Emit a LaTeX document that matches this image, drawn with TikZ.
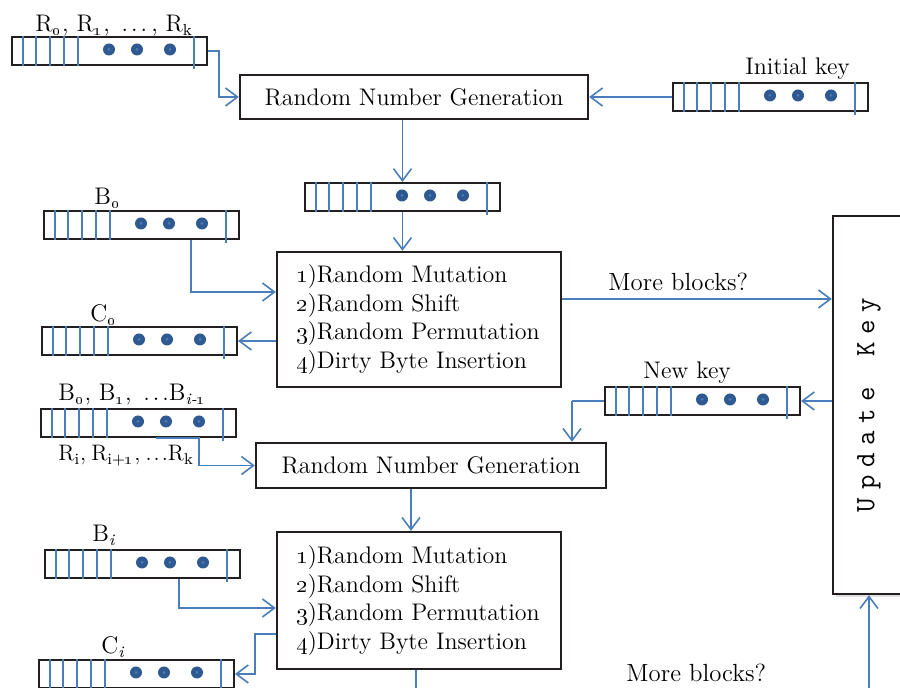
\documentclass[tikz,border=0pt]{standalone}
\usetikzlibrary{arrows.meta,calc,shadows}
\definecolor{lineblue}{RGB}{74,126,187}
\definecolor{dotblue}{RGB}{46,89,145}
\definecolor{boxline}{RGB}{35,31,32}
\newcommand\mainfs{\fontsize{12}{14.25}\selectfont}
\newcommand\osn[1]{\oldstylenums{#1}}
\newcommand\regbox[3]{%
  \node[regst] (#1) at (#2+97.5,#3+14) {};
  \foreach \dx in {12,25,39,53,67}{\draw[regline] ($(#1.north west)+(\dx,0)$) -- ($(#1.south west)+(\dx,0)$);}
  \draw[regline] ($(#1.north west)+(183,0)$) -- ($(#1.south west)+(183,3)$);
  \foreach \dx in {98,126,159}{%
    \fill[dotblue] ($(#1.north west)+(\dx,13.5)$) circle[radius=6];
    \fill[lineblue] ($(#1.north west)+(\dx,13.5)$) circle[radius=1.5];}
}
\newcommand\upkey{\ttfamily\fontsize{14}{16}\selectfont U\kern3.9pt p\kern3.9pt d\kern3.9pt a\kern3.9pt t\kern3.9pt e\kern3.9pt\ \kern3.9pt K\kern3.9pt e\kern3.9pt y}
\tikzset{
  every node/.style={font=\mainfs},
  regst/.style={draw=boxline, line width=1pt, fill=white, minimum width=97.5pt, minimum height=14pt, inner sep=0pt},
  regline/.style={draw=lineblue, line width=1pt},
  box/.style={draw=boxline, line width=1.2pt, fill=white, inner sep=0pt},
  procbox/.style={box, text width=123pt, align=left, inner xsep=9.5pt, inner ysep=0pt},
  arr/.style={draw=lineblue, line width=0.8pt, -{Straight Barb[length=6pt,width=9pt]}},
  conn/.style={draw=lineblue, line width=0.8pt},
  lbl/.style={anchor=base west, inner sep=0pt},
}
\begin{document}
\begin{tikzpicture}[x=0.5pt,y=-0.5pt]
\useasboundingbox (0,0) rectangle (900,688);
\clip (0,0) rectangle (900,688);
\fill[white] (0,0) rectangle (900,688);

% boxes
\node[box, minimum width=174pt, minimum height=22pt] (rng1) at (414,97) {Random Number Generation};
\node[box, minimum width=175pt, minimum height=22.5pt] (rng2) at (431,465.5) {Random Number Generation};
\node[procbox, minimum height=67.5pt] (box1) at (419,319.5) {\osn{1})Random Mutation\\\osn{2})Random Shift\\\osn{3})Random Permutation\\\osn{4})Dirty Byte Insertion};
\node[procbox, minimum height=68.5pt] (box2) at (419,600.5) {\osn{1})Random Mutation\\\osn{2})Random Shift\\\osn{3})Random Permutation\\\osn{4})Dirty Byte Insertion};
\node[box, minimum width=36pt, minimum height=189pt, drop shadow={opacity=0.25, shadow xshift=1.5pt, shadow yshift=-1.5pt}] (upd) at (869,405) {\rotatebox{90}{\upkey}};

% registers
\regbox{R}{12}{37}
\regbox{init}{673}{83}
\regbox{reg2}{305}{183}
\regbox{B0}{44}{211}
\regbox{C0}{42}{327}
\regbox{newkey}{605}{387}
\regbox{Bprev}{41}{409}
\regbox{Bi}{45}{550}
\regbox{Ci}{39}{660}

% labels
\node[lbl] (lR) at (35,32) {R\textsubscript{\osn{0}}, R\textsubscript{\osn{1}}, \,.\kern1.5pt.\kern1.5pt.\,, R\textsubscript{k}};
\node[lbl] (linit) at (745,75) {Initial key};
\node[lbl] (lB0) at (94,205) {B\textsubscript{\osn{0}}};
\node[lbl] (lC0) at (90,322) {C\textsubscript{\osn{0}}};
\node[lbl] (lnew) at (643,379) {New key};
\node[lbl] (lBprev) at (58,401) {B\textsubscript{\osn{0}}, B\textsubscript{\osn{1}}, \,.\kern1.5pt.\kern1.5pt.B\textsubscript{\textit{i-\osn{1}}}};
\node[lbl, font=\fontsize{11.2}{14}\selectfont] (lRi) at (58,461) {R\textsubscript{i},\kern2.5pt R\textsubscript{i+\osn{1}},\kern2.5pt .\kern1pt.\kern1pt.R\textsubscript{k}};
\node[lbl] (lBi) at (92,542) {B\textsubscript{\textit{i}}};
\node[lbl] (lCi) at (101,654) {C\textsubscript{\textit{i}}};
\node[lbl, font=\fontsize{12.4}{14}\selectfont] (more1) at (608,291) {More blocks?};
\node[lbl, font=\fontsize{12.4}{14}\selectfont] (more2) at (626,682) {More blocks?};

% connectors
\draw[arr] (R.east) -- ++(11,0) |- (rng1.west);
\draw[arr] (init.west) -- (rng1.east);
\draw[arr] (rng1.south -| reg2.north) -- (reg2.north);
\draw[arr] (reg2.south) -- (reg2.south |- box1.north);
\draw[arr] ($(B0.south west)+(148,0)$) |- ($(box1.west)+(0,-27.5)$);
\draw[arr] (box1.west |- C0.east) -- (C0.east);
\coordinate (m1) at ($(box1.east)+(0,-20.5)$);
\draw[arr] (m1) -- (m1 -| upd.west);
\draw[arr] (upd.west |- newkey.east) -- (newkey.east);
\draw[conn] (newkey.west) -- ++(-32,0) coordinate (nk);
\draw[arr] (nk) -- (nk |- rng2.north);
\draw[arr] ($(Bprev.south west)+(116,0)$) -- ++(43,0) |- (rng2.west);
\coordinate (b2top) at ($(box2.north)+(-8,0)$);
\draw[arr] (rng2.south -| b2top) -- (b2top);
\coordinate (b2out) at ($(box2.south)+(-3,30)$);
\draw[conn] (box2.south -| b2out) -- (b2out);
\draw[arr] ($(Bi.south west)+(135,0)$) |- ($(box2.west)+(0,7.5)$);
\draw[arr] ($(box2.west)+(0,33.5)$) -- ++(-21,0) |- (Ci.east);
\coordinate (updin) at (869,700);
\draw[arr] (updin) -- (upd.south);
\end{tikzpicture}
\end{document}
